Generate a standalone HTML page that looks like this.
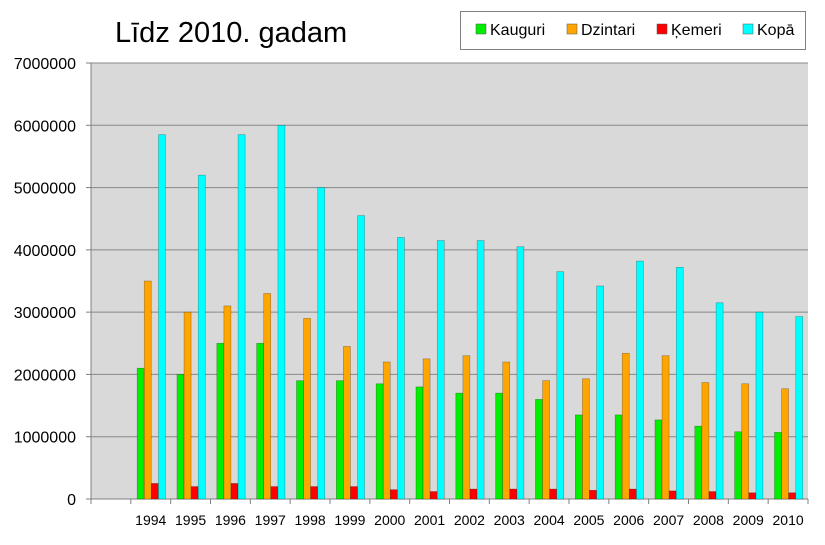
<!DOCTYPE html>
<html><head><meta charset="utf-8"><style>
body{margin:0;background:#fff;width:825px;height:540px;overflow:hidden;font-family:"Liberation Sans",Arial,sans-serif}
</style></head><body>
<svg id="c" width="825" height="540" xmlns="http://www.w3.org/2000/svg" font-family="Liberation Sans, Arial, sans-serif">
<text x="115" y="42" font-size="29" fill="#000">Līdz 2010. gadam</text>
<rect x="460.5" y="11.5" width="345" height="38" fill="#fff" stroke="#808080"/>
<rect x="476" y="24" width="10" height="10" fill="#00ee00" stroke="#555" stroke-width="0.5"/><text x="490" y="35" font-size="16">Kauguri</text>
<rect x="567" y="24" width="10" height="10" fill="#ffa500" stroke="#555" stroke-width="0.5"/><text x="581" y="35" font-size="16">Dzintari</text>
<rect x="657" y="24" width="10" height="10" fill="#ff0000" stroke="#555" stroke-width="0.5"/><text x="671" y="35" font-size="16">Ķemeri</text>
<rect x="743" y="24" width="10" height="10" fill="#00ffff" stroke="#555" stroke-width="0.5"/><text x="757" y="35" font-size="16">Kopā</text>
<g id="g"></g>
</svg>
<script>
var g=document.getElementById('g'),s='';
var X0=91,X1=808,Y0=63,Yb=499,H=Yb-Y0,sw=(X1-X0)/18;
s+='<rect x="'+X0+'" y="'+Y0+'" width="'+(X1-X0)+'" height="'+H+'" fill="#d9d9d9"/>';
for(var i=0;i<=7;i++){var y=Yb-i*H/7;
 s+='<line x1="'+X0+'" x2="'+X1+'" y1="'+y+'" y2="'+y+'" stroke="'+(i==0?'#808080':'#888')+'" stroke-width="1"/>';
 s+='<line x1="'+(X0-5)+'" x2="'+X0+'" y1="'+y+'" y2="'+y+'" stroke="#808080"/>';
 s+='<text x="76" y="'+(y+6)+'" font-size="16" text-anchor="end">'+(i*1000000)+'</text>';}
s+='<line x1="'+X0+'" x2="'+X0+'" y1="'+Y0+'" y2="'+Yb+'" stroke="#808080"/>';
var K=[2.1,2.0,2.5,2.5,1.9,1.9,1.85,1.8,1.7,1.7,1.6,1.35,1.35,1.27,1.17,1.08,1.07],
D=[3.5,3.0,3.1,3.3,2.9,2.45,2.2,2.25,2.3,2.2,1.9,1.93,2.34,2.3,1.87,1.85,1.77],
R=[0.25,0.2,0.25,0.2,0.2,0.2,0.15,0.12,0.16,0.16,0.16,0.14,0.16,0.13,0.12,0.1,0.1],
C=[5.85,5.2,5.85,6.0,5.0,4.55,4.2,4.15,4.15,4.05,3.65,3.42,3.82,3.72,3.15,3.0,2.93];
var ser=[[K,'#00ee00'],[D,'#ffa500'],[R,'#ff0000'],[C,'#00ffff']];
for(var j=0;j<=18;j++){var x=X0+j*sw;s+='<line x1="'+x+'" x2="'+x+'" y1="'+Yb+'" y2="'+(Yb+5)+'" stroke="#808080"/>';}
for(var j=0;j<17;j++){var sx=X0+(j+1)*sw;
 for(var k=0;k<4;k++){var v=ser[k][0][j],h=v*H/7;
  s+='<rect x="'+(sx+6.3+k*7.1)+'" y="'+(Yb-h)+'" width="7" height="'+h+'" fill="'+ser[k][1]+'" stroke="rgba(0,0,0,0.35)" stroke-width="0.6"/>';}
 s+='<text x="'+(sx+sw/2)+'" y="525" font-size="14" text-anchor="middle">'+(1994+j)+'</text>';}
g.innerHTML=s;
</script>
</body></html>
